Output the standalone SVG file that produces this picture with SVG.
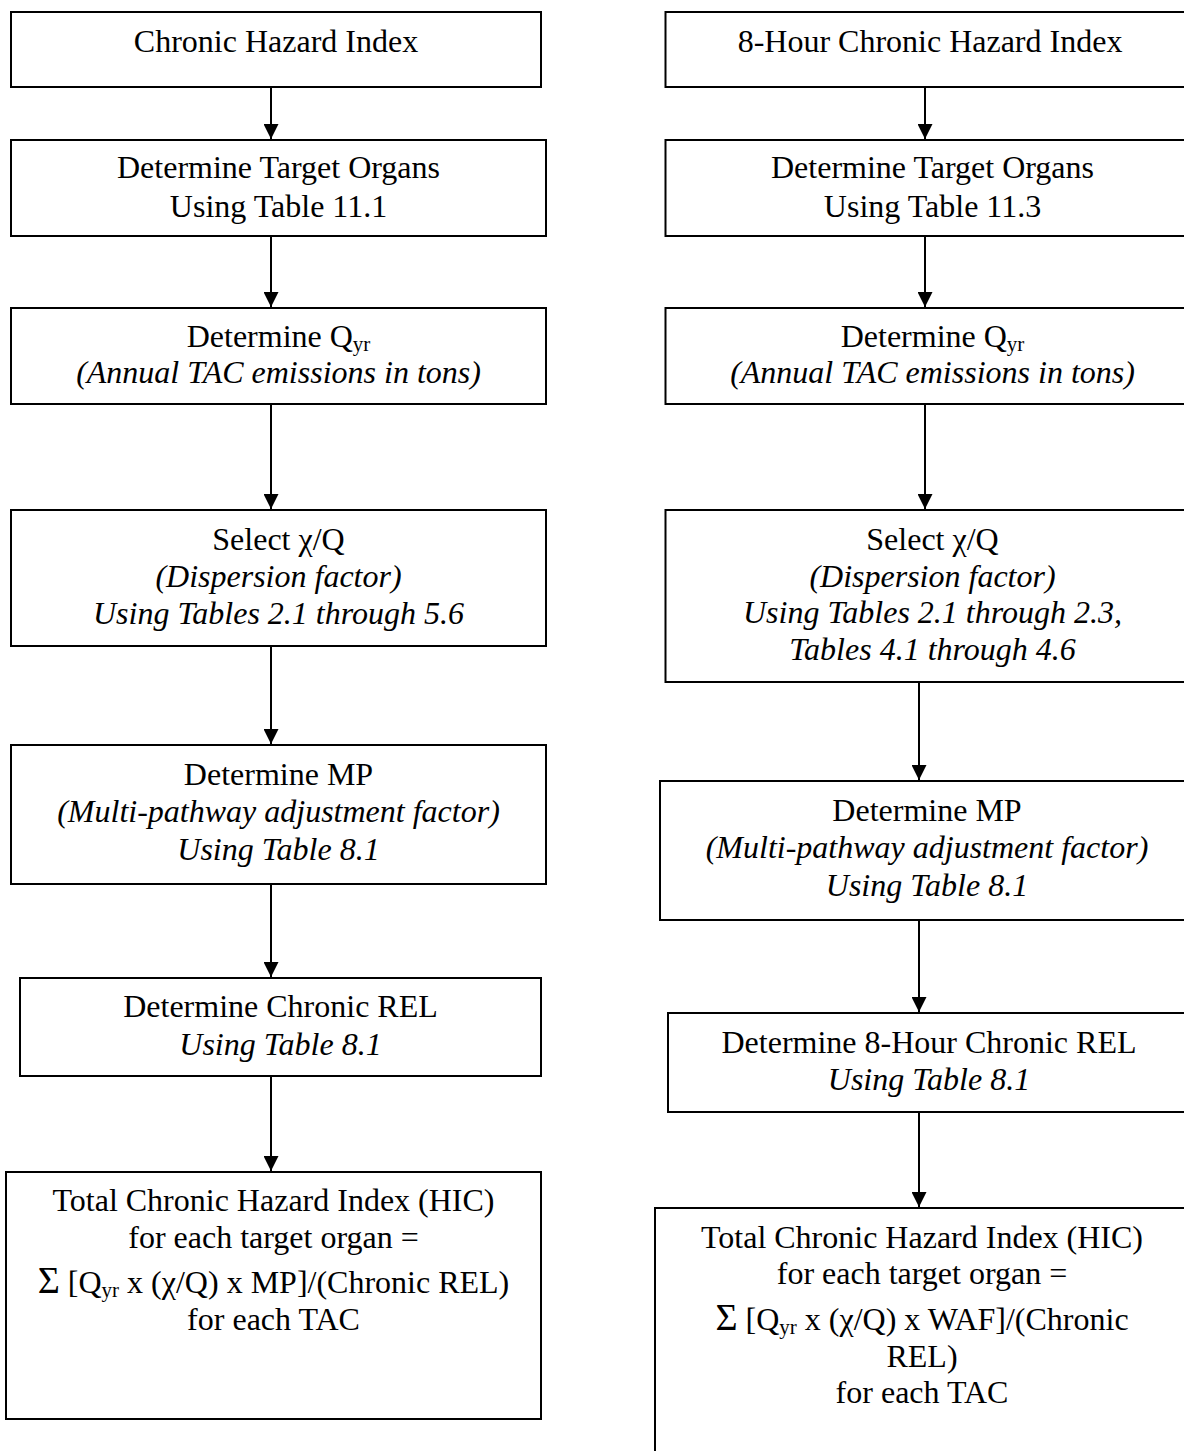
<svg xmlns="http://www.w3.org/2000/svg" width="1184" height="1451" viewBox="0 0 1184 1451">
  <style>
    .box { fill: #ffffff; stroke: #000000; stroke-width: 2; }
    .t { font-family: "Liberation Serif", "Times New Roman", serif; font-size: 32px; fill: #000000; text-anchor: middle; }
    .i { font-style: italic; }
    .sub { font-size: 21px; }
    .sig { font-size: 38px; }
    .edge { stroke: #000000; stroke-width: 2; fill: none; marker-end: url(#ah); }
  </style>
  <defs>
    <!-- solid triangular arrowhead, tip at the end of the line -->
    <marker id="ah" markerWidth="15" markerHeight="15" refX="15" refY="7.5" orient="auto" markerUnits="userSpaceOnUse" viewBox="0 0 15 15">
      <path d="M0,0 L15,7.5 L0,15 Z" fill="#000000"/>
    </marker>
  </defs>
  <rect width="1184" height="1451" fill="#ffffff"/>

  <!-- connectors -->
  <g id="connectors">
    <line class="edge" x1="271" y1="87" x2="271" y2="139"/>
    <line class="edge" x1="271" y1="236" x2="271" y2="307"/>
    <line class="edge" x1="271" y1="404" x2="271" y2="509"/>
    <line class="edge" x1="271" y1="646" x2="271" y2="744"/>
    <line class="edge" x1="271" y1="884" x2="271" y2="977"/>
    <line class="edge" x1="271" y1="1076" x2="271" y2="1171"/>

    <line class="edge" x1="925" y1="87" x2="925" y2="139"/>
    <line class="edge" x1="925" y1="236" x2="925" y2="307"/>
    <line class="edge" x1="925" y1="404" x2="925" y2="509"/>
    <line class="edge" x1="919" y1="682" x2="919" y2="780"/>
    <line class="edge" x1="919" y1="920" x2="919" y2="1012"/>
    <line class="edge" x1="919" y1="1112" x2="919" y2="1207"/>
  </g>

  <!-- left column: chronic hazard index -->
  <g id="l1">
    <rect class="box" x="11" y="12" width="530" height="75"/>
    <text class="t" x="276" y="52">Chronic Hazard Index</text>
  </g>
  <g id="l2">
    <rect class="box" x="11" y="140" width="535" height="96"/>
    <text class="t" x="278.5" y="178">Determine Target Organs</text>
    <text class="t" x="278.5" y="217">Using Table 11.1</text>
  </g>
  <g id="l3">
    <rect class="box" x="11" y="308" width="535" height="96"/>
    <text class="t" x="278.5" y="347">Determine Q<tspan class="sub" dy="4">yr</tspan></text>
    <text class="t i" x="278.5" y="383">(Annual TAC emissions in tons)</text>
  </g>
  <g id="l4">
    <rect class="box" x="11" y="510" width="535" height="136"/>
    <text class="t" x="278.5" y="550">Select χ/Q</text>
    <text class="t i" x="278.5" y="587">(Dispersion factor)</text>
    <text class="t i" x="278.5" y="624">Using Tables 2.1 through 5.6</text>
  </g>
  <g id="l5">
    <rect class="box" x="11" y="745" width="535" height="139"/>
    <text class="t" x="278.5" y="785">Determine MP</text>
    <text class="t i" x="278.5" y="822">(Multi-pathway adjustment factor)</text>
    <text class="t i" x="278.5" y="860">Using Table 8.1</text>
  </g>
  <g id="l6">
    <rect class="box" x="20" y="978" width="521" height="98"/>
    <text class="t" x="280.5" y="1017">Determine Chronic REL</text>
    <text class="t i" x="280.5" y="1055">Using Table 8.1</text>
  </g>
  <g id="l7">
    <rect class="box" x="6" y="1172" width="535" height="247"/>
    <text class="t" x="273.5" y="1211">Total Chronic Hazard Index (HIC)</text>
    <text class="t" x="273.5" y="1248">for each target organ =</text>
    <text class="t" x="273.5" y="1293"><tspan class="sig">Σ</tspan> [Q<tspan class="sub" dy="4">yr</tspan><tspan dy="-4"> x (χ/Q) x MP]/(Chronic REL)</tspan></text>
    <text class="t" x="273.5" y="1330">for each TAC</text>
  </g>

  <!-- right column: 8-hour chronic hazard index -->
  <g id="r1">
    <rect class="box" x="665.5" y="12" width="530" height="75"/>
    <text class="t" x="930" y="52">8-Hour Chronic Hazard Index</text>
  </g>
  <g id="r2">
    <rect class="box" x="665.5" y="140" width="534" height="96"/>
    <text class="t" x="932.5" y="178">Determine Target Organs</text>
    <text class="t" x="932.5" y="217">Using Table 11.3</text>
  </g>
  <g id="r3">
    <rect class="box" x="665.5" y="308" width="534" height="96"/>
    <text class="t" x="932.5" y="347">Determine Q<tspan class="sub" dy="4">yr</tspan></text>
    <text class="t i" x="932.5" y="383">(Annual TAC emissions in tons)</text>
  </g>
  <g id="r4">
    <rect class="box" x="665.5" y="510" width="534" height="172"/>
    <text class="t" x="932.5" y="550">Select χ/Q</text>
    <text class="t i" x="932.5" y="587">(Dispersion factor)</text>
    <text class="t i" x="932.5" y="623">Using Tables 2.1 through 2.3,</text>
    <text class="t i" x="932.5" y="660">Tables 4.1 through 4.6</text>
  </g>
  <g id="r5">
    <rect class="box" x="660" y="781" width="534" height="139"/>
    <text class="t" x="927" y="821">Determine MP</text>
    <text class="t i" x="927" y="858">(Multi-pathway adjustment factor)</text>
    <text class="t i" x="927" y="896">Using Table 8.1</text>
  </g>
  <g id="r6">
    <rect class="box" x="668" y="1013" width="522" height="99"/>
    <text class="t" x="929" y="1053">Determine 8-Hour Chronic REL</text>
    <text class="t i" x="929" y="1090">Using Table 8.1</text>
  </g>
  <g id="r7">
    <rect class="box" x="655" y="1208" width="534" height="260"/>
    <text class="t" x="922" y="1248">Total Chronic Hazard Index (HIC)</text>
    <text class="t" x="922" y="1284">for each target organ =</text>
    <text class="t" x="922" y="1330"><tspan class="sig">Σ</tspan> [Q<tspan class="sub" dy="4">yr</tspan><tspan dy="-4"> x (χ/Q) x WAF]/(Chronic</tspan></text>
    <text class="t" x="922" y="1367">REL)</text>
    <text class="t" x="922" y="1403">for each TAC</text>
  </g>
</svg>
